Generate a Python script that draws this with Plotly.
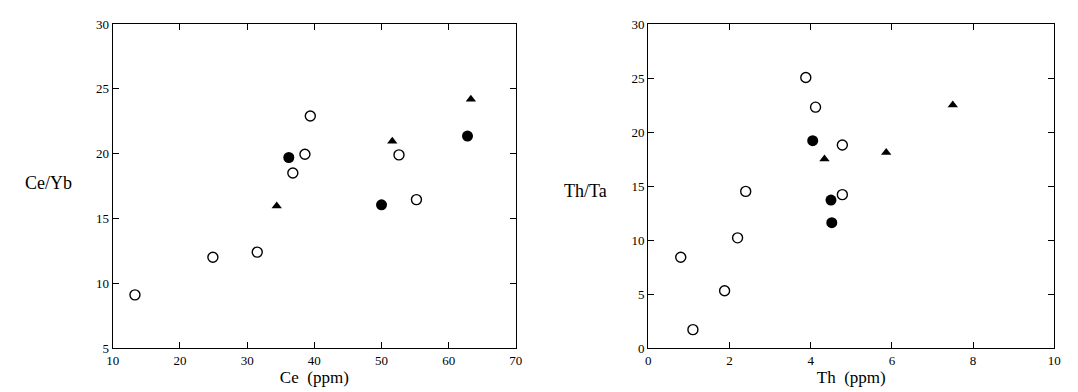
import plotly.graph_objects as go

# Left panel: Ce (ppm) vs Ce/Yb
ce_open_x = [13.3, 24.9, 31.5, 36.8, 38.6, 39.4, 52.6, 55.2]
ce_open_y = [9.1, 12.0, 12.4, 18.5, 19.95, 22.9, 19.9, 16.45]
ce_fill_x = [36.2, 50.0, 62.8]
ce_fill_y = [19.7, 16.05, 21.35]
ce_tri_x = [34.4, 51.6, 63.3]
ce_tri_y = [15.95, 20.95, 24.2]

# Right panel: Th (ppm) vs Th/Ta
th_open_x = [0.8, 1.1, 1.88, 2.2, 2.4, 3.88, 4.12, 4.78, 4.78]
th_open_y = [8.4, 1.7, 5.3, 10.2, 14.5, 25.05, 22.3, 18.8, 14.2]
th_fill_x = [4.05, 4.5, 4.52]
th_fill_y = [19.2, 13.7, 11.6]
th_tri_x = [4.34, 5.86, 7.5]
th_tri_y = [17.5, 18.1, 22.5]

FONT = "Liberation Serif"
fig = go.Figure()

def add_series(xs, ys, kind, xa, ya):
    if kind == "open":
        m = dict(symbol="circle-open", size=10, color="black", line=dict(width=1.4, color="black"))
    elif kind == "fill":
        m = dict(symbol="circle", size=11, color="black", line=dict(width=0))
    else:
        m = dict(symbol="triangle-up", size=9, color="black", line=dict(width=0))
    fig.add_trace(go.Scatter(x=xs, y=ys, mode="markers", marker=m,
                             xaxis=xa, yaxis=ya, showlegend=False, hoverinfo="x+y"))

add_series(ce_open_x, ce_open_y, "open", "x", "y")
add_series(ce_fill_x, ce_fill_y, "fill", "x", "y")
add_series(ce_tri_x, ce_tri_y, "tri", "x", "y")
add_series(th_open_x, th_open_y, "open", "x2", "y2")
add_series(th_fill_x, th_fill_y, "fill", "x2", "y2")
add_series(th_tri_x, th_tri_y, "tri", "x2", "y2")

axis_common = dict(showline=True, linecolor="black", linewidth=1.3, mirror="ticks",
                   ticks="inside", ticklen=6, tickcolor="black", tickwidth=1.3,
                   showgrid=False, zeroline=False,
                   tickfont=dict(family=FONT, size=13, color="black"))

fig.update_layout(
    width=1078, height=392,
    margin=dict(l=0, r=0, t=16, b=52),
    paper_bgcolor="white", plot_bgcolor="white",
    xaxis=dict(domain=[100/1078, 508/1078], range=[10, 70], tickvals=[10, 20, 30, 40, 50, 60, 70],
               title=dict(text="Ce  (ppm)", font=dict(family=FONT, size=17, color="black"), standoff=4),
               **axis_common),
    yaxis=dict(domain=[0, 1], range=[5, 30], tickvals=[5, 10, 15, 20, 25, 30], anchor="x",
               **axis_common),
    xaxis2=dict(domain=[642/1078, 1053/1078], range=[0, 10], tickvals=[0, 2, 4, 6, 8, 10], anchor="y2",
                title=dict(text="Th  (ppm)", font=dict(family=FONT, size=17, color="black"), standoff=4),
                **axis_common),
    yaxis2=dict(domain=[0, 1], range=[0, 30], tickvals=[0, 5, 10, 15, 20, 25, 30], anchor="x2",
                **axis_common),
    annotations=[
        dict(text="Ce/Yb", xref="paper", yref="paper", x=35/1078, y=(340-175)/324,
             showarrow=False, font=dict(family=FONT, size=18, color="black"), xanchor="center", yanchor="middle"),
        dict(text="Th/Ta", xref="paper", yref="paper", x=578/1078, y=(340-183)/324,
             showarrow=False, font=dict(family=FONT, size=18, color="black"), xanchor="center", yanchor="middle"),
    ],
)

fig.write_html("out.html")
